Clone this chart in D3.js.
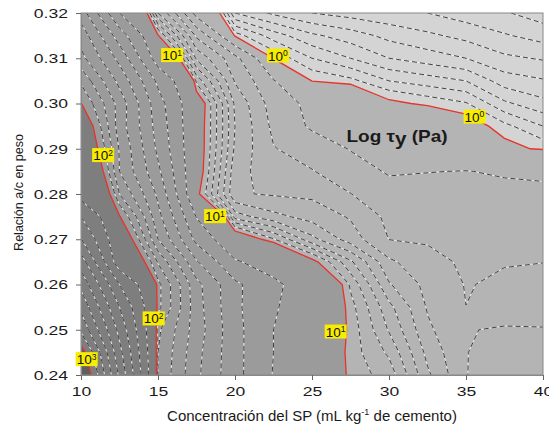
<!DOCTYPE html>
<html>
<head>
<meta charset="utf-8">
<script src="https://cdnjs.cloudflare.com/ajax/libs/d3/7.8.5/d3.min.js"></script>
<style>
body { margin: 0; background: #fff; }
text { font-family: Arial, "Liberation Sans", sans-serif; }
</style>
</head>
<body>
<div id="chart"></div>
<script>
var width = 549, height = 426

// grid of the surface: SP dose (x) and a/c ratio (y)
var xGrid = [10, 12.5, 15, 17.5, 20, 22.5, 25, 27.5, 30, 32.5, 35, 37.5, 40]
var yGrid = [0.240, 0.245, 0.250, 0.255, 0.260, 0.265, 0.270, 0.275, 0.280,
             0.285, 0.290, 0.295, 0.300, 0.305, 0.310, 0.315, 0.320]

// yield stress (Pa), one row per a/c value, bottom row first
var tau = [
  [1150, 580, 79, 52, 33, 19.5, 14, 9.5, 8.6, 5.2, 3.01, 2.8, 2.85],          // 0.240
  [1060, 530, 80, 53, 33, 20, 13, 9.5, 7.8, 4.7, 3.01, 2.85, 2.9],             // 0.245
  [880, 470, 82, 55, 33, 20, 13.5, 9.6, 6.9, 4.2, 3.01, 2.98, 2.98],           // 0.250
  [775, 400, 93, 54, 32, 21, 14, 9.4, 6.3, 3.9, 3.005, 3.1, 3.15],             // 0.255
  [673, 300, 93, 53, 32, 22, 14.4, 8.8, 5.1, 3.7, 2.95, 3.15, 3.2],            // 0.260
  [550, 140, 79, 41, 21, 15.6, 10.5, 7.2, 4.2, 3.3, 2.85, 2.95, 2.99],         // 0.265
  [405, 120, 60, 27, 12, 9.1, 6.3, 4.5, 2.98, 2.9, 2.75, 2.8, 2.85],           // 0.270
  [300, 101, 53, 19.5, 6.5, 5.3, 4.6, 3.9, 2.75, 2.6, 2.5, 2.5, 2.5],          // 0.275
  [160, 80, 48, 10.5, 4.1, 3.9, 3.8, 3.02, 2.4, 2.3, 2.25, 2.2, 2.15],         // 0.280
  [141, 70, 42, 11.2, 4.3, 3.55, 3.05, 2.45, 1.9, 1.98, 2.02, 1.92, 1.88],     // 0.285
  [124, 69, 38, 11.3, 4.8, 3.05, 2.55, 1.95, 1.7, 1.5, 1.3, 1.06, 0.97],       // 0.290
  [116, 65, 36, 11.3, 5.0, 2.75, 1.85, 1.65, 1.45, 1.3, 1.1, 0.93, 0.8],       // 0.295
  [100.5, 66, 34, 11.5, 4.8, 2.5, 1.75, 1.4, 1.04, 0.97, 0.91, 0.72, 0.63],    // 0.300
  [88, 57, 28, 8.7, 3.9, 2.05, 0.99, 0.93, 0.8, 0.75, 0.7, 0.55, 0.51],        // 0.305
  [73, 47, 15, 5.8, 3.3, 0.98, 0.8, 0.7, 0.6, 0.55, 0.5, 0.42, 0.39],          // 0.310
  [66, 35, 10.1, 3.8, 0.95, 0.75, 0.62, 0.55, 0.47, 0.42, 0.37, 0.31, 0.26],   // 0.315
  [55, 20, 6, 1.6, 0.6, 0.48, 0.4, 0.36, 0.33, 0.3, 0.25, 0.21, 0.15]          // 0.320
]

// contour levels
var decadeLevels = [1, 10, 100, 1000]
var minorLevels = [0.2, 0.3, 0.4, 0.5, 0.6, 0.7, 0.8, 0.9,
                   2, 3, 4, 5, 6, 7, 8, 9,
                   20, 30, 40, 50, 60, 70, 80, 90,
                   200, 300, 400, 500, 600, 700, 800, 900]
var bandColors = ["#d4d4d4", "#b4b4b4", "#9b9b9b", "#7e7e7e", "#5f5f5f"]

// axis ticks
var xTicks = [10, 15, 20, 25, 30, 35, 40]
var yTicks = [0.24, 0.25, 0.26, 0.27, 0.28, 0.29, 0.30, 0.31, 0.32]

// yellow labels on the decade lines
var labelX = [15.91, 22.79, 35.55, 11.43, 18.7, 14.71, 26.53, 10.36]
var labelY = [0.3107, 0.3106, 0.2971, 0.2886, 0.2751, 0.2525, 0.2496, 0.2435]
var labelExp = ["1", "0", "0", "2", "1", "2", "1", "3"]

var svg = d3.select("#chart").append("svg")
    .attr("width", width)
    .attr("height", height)

var x = d3.scaleLinear().domain([10, 40]).range([81, 543])
var y = d3.scaleLinear().domain([0.24, 0.32]).range([375, 13])

var nx = xGrid.length, ny = yGrid.length
var values = []
tau.forEach(function(row) { row.forEach(function(v) { values.push(v) }) })

var stepX = xGrid[1] - xGrid[0], stepY = yGrid[1] - yGrid[0]
var proj = d3.geoTransform({
    point: function(px, py) {
        this.stream.point(x(xGrid[0] + (px - 0.5) * stepX), y(yGrid[0] + (py - 0.5) * stepY))
    }
})
var path = d3.geoPath(proj)
var contours = d3.contours().size([nx, ny])

svg.append("clipPath").attr("id", "plotclip")
    .append("rect")
    .attr("x", x(10)).attr("y", y(0.32))
    .attr("width", x(40) - x(10)).attr("height", y(0.24) - y(0.32))

var plot = svg.append("g").attr("clip-path", "url(#plotclip)")

// filled bands, one per decade
plot.append("rect")
    .attr("x", x(10)).attr("y", y(0.32))
    .attr("width", x(40) - x(10)).attr("height", y(0.24) - y(0.32))
    .attr("fill", bandColors[0])

plot.append("g").selectAll("path")
    .data(decadeLevels.map(function(t) { return contours.contour(values, t) }))
    .enter().append("path")
    .attr("d", path)
    .attr("fill", function(d, i) { return bandColors[i + 1] })

// dashed minor contours: white under, dark dashes over
var minor = minorLevels.map(function(t) { return contours.contour(values, t) })
plot.append("g").selectAll("path")
    .data(minor)
    .enter().append("path")
    .attr("d", path)
    .attr("fill", "none")
    .attr("stroke", "#f4f4f4")
    .attr("stroke-width", 0.9)
plot.append("g").selectAll("path")
    .data(minor)
    .enter().append("path")
    .attr("d", path)
    .attr("fill", "none")
    .attr("stroke", "#2e2e2e")
    .attr("stroke-width", 0.9)
    .attr("stroke-dasharray", "5,3")

// red decade lines
plot.append("g").selectAll("path")
    .data(decadeLevels.map(function(t) { return contours.contour(values, t) }))
    .enter().append("path")
    .attr("d", path)
    .attr("fill", "none")
    .attr("stroke", "#e8322a")
    .attr("stroke-width", 1.3)

// frame
svg.append("rect")
    .attr("x", x(10)).attr("y", y(0.32))
    .attr("width", x(40) - x(10)).attr("height", y(0.24) - y(0.32))
    .attr("fill", "none")
    .attr("stroke", "#888")

// axes
var gx = svg.append("g")
    .attr("transform", "translate(0," + y(0.24) + ")")
    .call(d3.axisBottom(x).tickValues(xTicks).tickSize(5).tickPadding(6))
var gy = svg.append("g")
    .attr("transform", "translate(" + x(10) + ",0)")
    .call(d3.axisLeft(y).tickValues(yTicks).tickFormat(d3.format(".2f")).tickSize(5).tickPadding(5))

;[gx, gy].forEach(function(g) {
    g.select(".domain").attr("stroke", "#888")
    g.selectAll(".tick line").attr("stroke", "#666")
    g.selectAll(".tick text")
        .attr("font-size", 13.5)
        .attr("fill", "#1a1a1a")
        .attr("transform", "scale(1.3,1)")
})

// axis titles
svg.append("text")
    .attr("x", 312).attr("y", 421)
    .attr("text-anchor", "middle")
    .attr("font-size", 15)
    .attr("fill", "#1a1a1a")
    .call(function(t) {
        t.append("tspan").text("Concentración del SP (mL kg")
        t.append("tspan").attr("font-size", 9).attr("dy", -6).text("-1")
        t.append("tspan").attr("dy", 6).text(" de cemento)")
    })

svg.append("text")
    .attr("transform", "translate(22.5,192.5) rotate(-90)")
    .attr("text-anchor", "middle")
    .attr("font-size", 12.5)
    .attr("fill", "#1a1a1a")
    .text("Relación a/c en peso")

// Log tau_y (Pa) caption
svg.append("text")
    .attr("transform", "translate(" + x(30.52) + "," + (y(0.2926) + 5) + ") scale(1.15,1)")
    .attr("text-anchor", "middle")
    .attr("font-size", 16.5)
    .attr("font-weight", "bold")
    .attr("fill", "#1a1a1a")
    .call(function(t) {
        t.append("tspan").text("Log \u03c4")
        t.append("tspan").attr("dy", 3).attr("font-size", 18).text("y")
        t.append("tspan").attr("dy", -3).text(" (Pa)")
    })

// decade labels
var lab = svg.append("g").selectAll("g")
    .data(labelExp)
    .enter().append("g")
    .attr("transform", function(d, i) { return "translate(" + x(labelX[i]) + "," + y(labelY[i]) + ")" })

lab.each(function(d) {
    var g = d3.select(this)
    var t = g.append("text")
        .attr("text-anchor", "middle")
        .attr("font-size", 13.5)
        .attr("y", 5)
        .attr("fill", "#111")
    t.append("tspan").text("10")
    t.append("tspan").attr("font-size", 8.5).attr("dy", -4.5).text(d)
    var b = t.node().getBBox()
    g.insert("rect", "text")
        .attr("x", b.x - 1).attr("y", -7)
        .attr("width", b.width + 2).attr("height", 14)
        .attr("fill", "#f8ec00")
})
</script>
</body>
</html>
